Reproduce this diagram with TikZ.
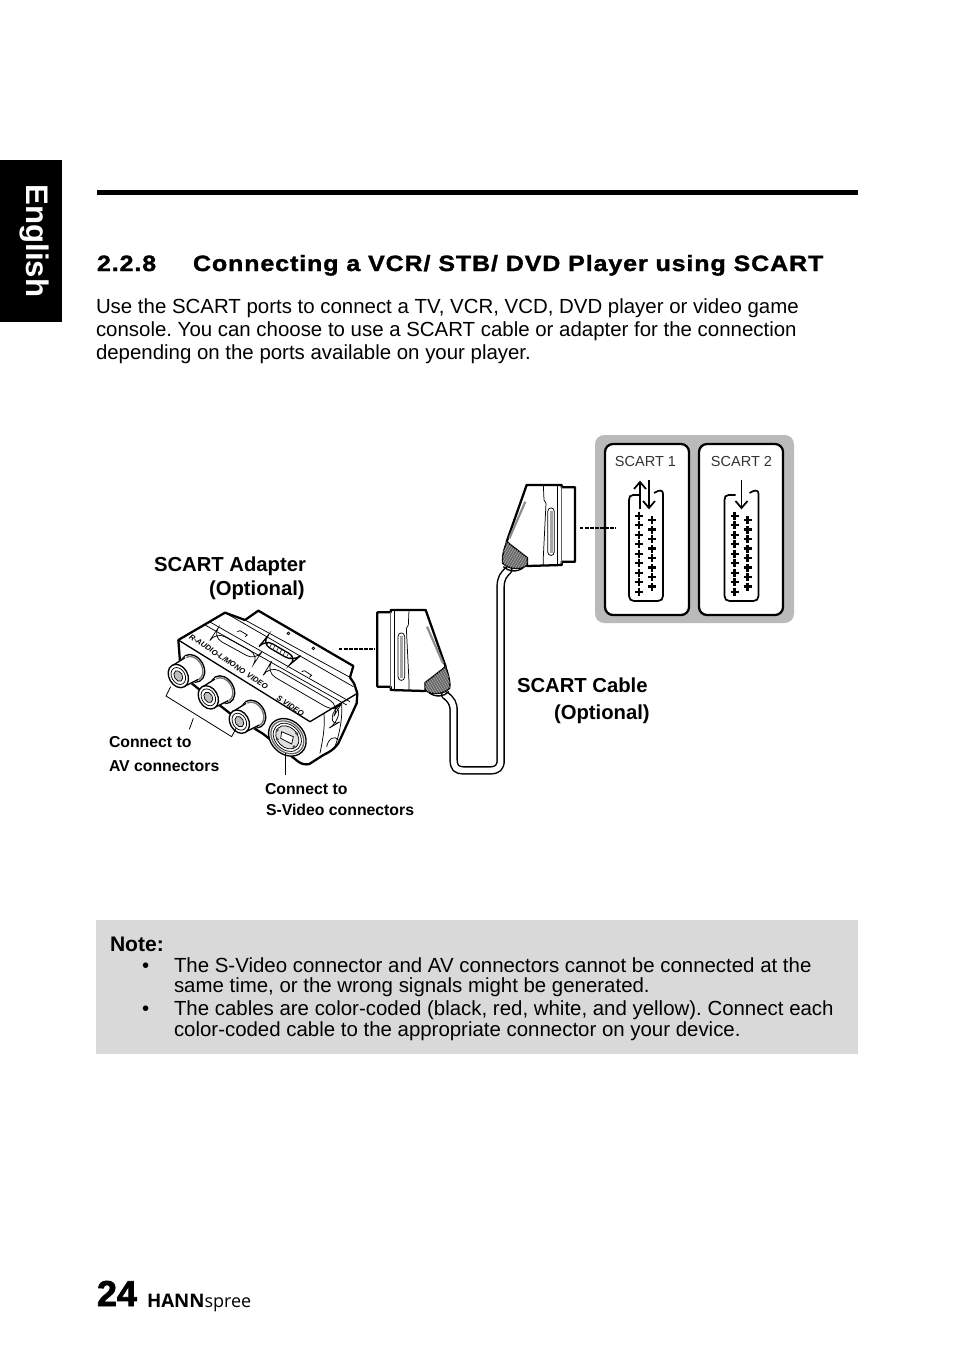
\documentclass[tikz,border=0pt]{standalone}
\usepackage{fontspec}
\setmainfont{Liberation Sans}
\newfontfamily\brandfont{Open Sans}
\newfontfamily\headfont[FakeStretch=1.13,LetterSpace=4,FakeBold=1.5]{Liberation Sans Bold}
\newfontfamily\numfont[FakeBold=2]{Liberation Sans Bold}
\frenchspacing
\newcommand{\fs}[1]{\fontsize{#1}{#1}\selectfont}
\tikzset{
  txt/.style={anchor=base west,inner sep=0pt,outer sep=0pt,text=black},
  body/.style={txt,font=\fs{15.32}},
  lab/.style={txt,font=\fs{15.2}\bfseries},
  small/.style={txt,font=\fs{11.85}\bfseries},
  scartlab/.style={anchor=base,inner sep=0pt,text=black!80,font=\fs{10.9}},
  thk/.style={line width=1.7pt,black},
  med/.style={line width=1pt,black},
  thn/.style={line width=0.55pt,black},
  dots/.style={line width=1.5pt,black,dash pattern=on 2.6pt off 1.2pt},
  plusmark/.style={line width=1.7pt,black},
  sockline/.style={line width=1.3pt,black},
  tinylab/.style={anchor=west,inner sep=0pt,rotate=-33.5,font=\fs{5.7}\itshape\bfseries},
}
\newcommand{\plusat}[2]{\draw[plusmark] (#1-4,#2)--(#1+4,#2) (#1,#2-4)--(#1,#2+4);}
\newcommand{\socket}[1]{%
  \begin{scope}[shift={(#1,0)}]
    \draw[sockline] (640,495) -- (633,495) .. controls (630,495) and (629,497) .. (629,500) -- (629,596)
      .. controls (629,599) and (631,601) .. (634,601) -- (658,601) .. controls (661,601) and (663,599) .. (663,596)
      -- (663,494) .. controls (663,491) and (661,490) .. (658,491) -- (654,493);
    \foreach \k in {0,...,8}{\pgfmathsetmacro{\yy}{515.7+9.5*\k}\plusat{639}{\yy}}
    \foreach \k in {0,...,7}{\pgfmathsetmacro{\yy}{520+9.5*\k}\plusat{652}{\yy}}
  \end{scope}}
\newcommand{\plug}[2]{% tip x,y in zoom units
  \begin{scope}[shift={(#1,#2)}]
    \filldraw[med,fill=white,rotate around={-60:(43,-23)}] (43,-23) ellipse [x radius=44,y radius=33];
    \draw[line width=1pt,black!55,rotate around={-60:(43,-23)}] (43,-23) ellipse [x radius=38,y radius=28];
    \fill[white] (-18,-31)--(18,31)--(62,13)--(22,-59)--cycle;
    \draw[med] (-18,-31)--(20,-55) (18,31)--(60,10);
    \filldraw[med,fill=white,rotate around={-60:(0,0)}] (0,0) ellipse [x radius=37,y radius=28];
    \draw[thn,rotate around={-60:(0,0)}] (0,0) ellipse [x radius=27,y radius=20];
    \draw[thn,fill=black!25,rotate around={-60:(0,0)}] (0,0) ellipse [x radius=17,y radius=12];
  \end{scope}}
\newcommand{\scartplug}{%
  \filldraw[thk,fill=white,line join=round] (470,45) -- (575,45) -- (575,52) -- (615,52) -- (615,275) -- (575,275) -- (575,285) -- (472,288) -- (410,215) -- cycle;
  \draw[thn] (520,45) -- (522,90) -- (528,100) -- (520,260) -- (520,287);
  \draw[thn] (563,47) -- (563,284);
  \draw[med,black!60] (575,50) -- (575,278);
  \filldraw[thn,fill=white] (533,125) .. controls (533,110) and (553,110) .. (553,125) -- (553,245) .. controls (553,260) and (533,260) .. (533,245) -- cycle;
  \fill[black!35] (539,122) rectangle (548,250);
  \draw[line width=1.6pt,black!45] (466,95) -- (418,205);
  \filldraw[med,fill=black!60] (410,215) -- (472,263) -- (472,285) .. controls (455,300) and (420,300) .. (398,280) .. controls (395,262) and (402,235) .. (410,215) -- cycle;
  \begin{scope}
    \clip (410,215) -- (472,263) -- (472,285) .. controls (455,300) and (420,300) .. (398,280) .. controls (395,262) and (402,235) .. (410,215) -- cycle;
    \foreach \d in {0,8,...,120}{\draw[line width=0.3pt,black!25] (390+\d,210) -- (390+\d-60,310);}
  \end{scope}
  \draw[med] (400,290) .. controls (415,305) and (440,308) .. (460,293);
}
\begin{document}
\begin{tikzpicture}[x=0.75pt,y=-0.75pt]
\useasboundingbox (0,0) rectangle (954,1352);
\fill[white] (0,0) rectangle (954,1352);

% language tab
\fill[black] (0,160) rectangle (62,322);
\node[anchor=center,inner sep=0pt,text=white,rotate=-90,font=\fs{23.4}\bfseries] (tab) at (34,241) {English};

% rule and heading
\fill[black] (97,190) rectangle (858,195);
\node[txt,font=\fs{16.6}\headfont] (hnum) at (97,271) {2.2.8};
\node[txt,font=\fs{16.6}\headfont] (htitle) at (193,271) {Connecting a VCR/ STB/ DVD Player using SCART};

% paragraph
\node[body] (p1) at (96,313) {Use the SCART ports to connect a TV, VCR, VCD, DVD player or video game};
\node[body] (p2) at (96,336) {console. You can choose to use a SCART cable or adapter for the connection};
\node[body] (p3) at (96,359) {depending on the ports available on your player.};

% SCART panel
\fill[black!27,rounded corners=7pt] (595,435) rectangle (794,623);
\filldraw[line width=1.7pt,black,fill=white,rounded corners=6pt] (605,444) rectangle (689,615);
\filldraw[line width=1.7pt,black,fill=white,rounded corners=6pt] (699,444) rectangle (783,615);
\node[scartlab] (s1) at (645.5,466) {SCART 1};
\node[scartlab] (s2) at (741.5,466) {SCART 2};
\socket{0}
\socket{95.5}
\draw[sockline] (640,509) -- (640,483);
\draw[sockline] (634,489) -- (640,482) -- (646,489);
\draw[sockline] (649,480) -- (649,507);
\draw[sockline] (643,501) -- (649,508) -- (655,501);
\draw[sockline] (741.5,480) -- (741.5,507);
\draw[sockline] (735.5,501) -- (741.5,508) -- (747.5,501);

% cable and connectors
\begin{scope}[shift={(370,470)},x=0.25pt,y=-0.25pt]
  \draw[line width=6.4pt,black,line cap=round] (415,300) .. controls (400,315) and (392,325) .. (392,350) -- (392,870) .. controls (392,893) and (382,901) .. (360,901) -- (280,901) .. controls (260,901) and (251,893) .. (251,870) -- (251,725) .. controls (251,700) and (245,690) .. (225,675);
  \draw[line width=4.2pt,white,line cap=round] (415,300) .. controls (400,315) and (392,325) .. (392,350) -- (392,870) .. controls (392,893) and (382,901) .. (360,901) -- (280,901) .. controls (260,901) and (251,893) .. (251,870) -- (251,725) .. controls (251,700) and (245,690) .. (225,675);
  \scartplug
  \begin{scope}[cm={-1,0,0,1,(637*0.25pt,-375*0.25pt)}]
    \scartplug
  \end{scope}
\end{scope}

% dotted links
\coordinate (d1a) at (580,527.5); \coordinate (d1b) at (616,527.5);
\coordinate (d2a) at (339,648.5); \coordinate (d2b) at (375,648.5);
\draw[dots] (d1a) -- (d1b);
\draw[dots] (d2a) -- (d2b);

% adapter
\begin{scope}[shift={(150,590)},x=0.25pt,y=-0.25pt]
  \filldraw[thk,fill=white,line join=round] (85,150) -- (225,68) -- (285,90) -- (325,62) -- (610,228) -- (600,262) -- (612,280) -- (622,310) -- (620,340) -- (565,460) .. controls (550,480) and (540,485) .. (520,495) -- (478,522) .. controls (465,525) and (455,522) .. (445,515) -- (340,432) -- (240,370) -- (150,300) -- (100,260) -- (90,215) -- cycle;
  % top surface
  \draw[med] (85,150) -- (480,395) -- (622,310);
  \draw[thn] (165,105) -- (590,345);
  \draw[thn] (178,95) -- (600,335);
  \draw[thn] (225,68) -- (610,290);
  \draw[thn] (285,90) -- (600,262);
  % slots
  \draw[thn,rounded corners=8pt] (197,125) -- (328,197) -- (318,212) -- (187,140) -- cycle;
  \draw[med,rounded corners=7pt] (345,148) -- (442,205) -- (430,215) -- (335,160) -- cycle;
  \foreach \d in {0,10,...,70}{\draw[line width=0.35pt,black] (355+\d,155+\d*0.6) -- (350+\d,165+\d*0.6);}
  \draw[thn,rounded corners=9pt] (358,225) -- (570,348) -- (558,368) -- (346,245) -- cycle;
  \draw[thn] (262,125) -- (270,122) -- (292,135) -- (285,140);
  \draw[thn] (455,245) -- (463,242) -- (485,256) -- (478,262);
  \draw[thn] (415,130) circle [radius=4];
  \draw[thn] (490,175) circle [radius=4];
  % right bands
  \draw[thn] (522,372) .. controls (525,410) and (520,440) .. (510,490);
  \draw[thn] (575,340) .. controls (578,380) and (570,430) .. (552,478);
  \draw[thn,rounded corners=7pt] (548,355) -- (570,345) -- (562,400) -- (545,410) -- cycle;
  \draw[thn] (530,470) .. controls (535,445) and (555,435) .. (565,450);
  % labels
  \node[tinylab] (l1) at (120,138) {R-AUDIO-L/MONO};
  \node[tinylab] (l2) at (292,252) {VIDEO};
  \node[tinylab] (l3) at (382,322) {S VIDEO};
  % RCA plugs
  \plug{85}{258}
  \plug{175}{322}
  \plug{268}{395}
  % S-Video socket
  \filldraw[med,fill=white,rotate around={-45:(412,442)}] (412,442) ellipse [x radius=62,y radius=50];
  \draw[line width=1pt,black!60,rotate around={-45:(412,442)}] (412,442) ellipse [x radius=55,y radius=43];
  \draw[thn,rotate around={-45:(412,442)}] (412,442) ellipse [x radius=47,y radius=37];
  \draw[thn,fill=black!12,rotate around={-45:(412,442)}] (412,442) ellipse [x radius=39,y radius=30];
  \filldraw[thn,fill=white] (395,425) -- (430,440) -- (425,462) -- (392,445) -- cycle;
  \foreach \a/\b in {382/420,382/448,440/430,432/470}{\fill[black!70] (\a,\b) circle [radius=5];}
  % brackets
  \coordinate (ba) at (62,290); \coordinate (bb) at (48,318); \coordinate (bc) at (245,440); \coordinate (bd) at (258,415);
  \coordinate (be) at (130,385); \coordinate (bf) at (118,418);
  \coordinate (sa) at (405,490); \coordinate (sb) at (405,555);
  \draw[line width=0.6pt,black] (ba) -- (bb) -- (bc) -- (bd);
  \draw[line width=0.6pt,black] (be) -- (bf);
  \draw[line width=0.6pt,black] (sa) -- (sb);
\end{scope}

% labels
\node[lab] (a1) at (154,571) {SCART Adapter};
\node[lab] (a2) at (209,595) {(Optional)};
\node[lab] (c1) at (517,692) {SCART Cable};
\node[lab] (c2) at (554,719) {(Optional)};
\node[small] (av1) at (109,747) {Connect to};
\node[small] (av2) at (109,771) {AV connectors};
\node[small] (sv1) at (265,794) {Connect to};
\node[small] (sv2) at (266,815) {S-Video connectors};

% note
\fill[black!15] (96,920) rectangle (858,1054);
\node[txt,font=\fs{15.8}\bfseries] (nt) at (110,951) {Note:};
\node[txt,font=\fs{15.32}] (b1) at (142,972.5) {•};
\node[body] (n1) at (174,972) {The S-Video connector and AV connectors cannot be connected at the};
\node[body] (n2) at (174,992) {same time, or the wrong signals might be generated.};
\node[txt,font=\fs{15.32}] (b2) at (142,1015.5) {•};
\node[body] (n3) at (174,1015) {The cables are color-coded (black, red, white, and yellow). Connect each};
\node[body] (n4) at (174,1036) {color-coded cable to the appropriate connector on your device.};

% footer
\node[txt,font=\fs{27}\numfont] (pg) at (97,1306) {24};
\node[txt,font=\brandfont] (br) at (147,1307) {\fs{14}\textbf{HANN}\fs{13.5}spree};
\end{tikzpicture}
\end{document}
